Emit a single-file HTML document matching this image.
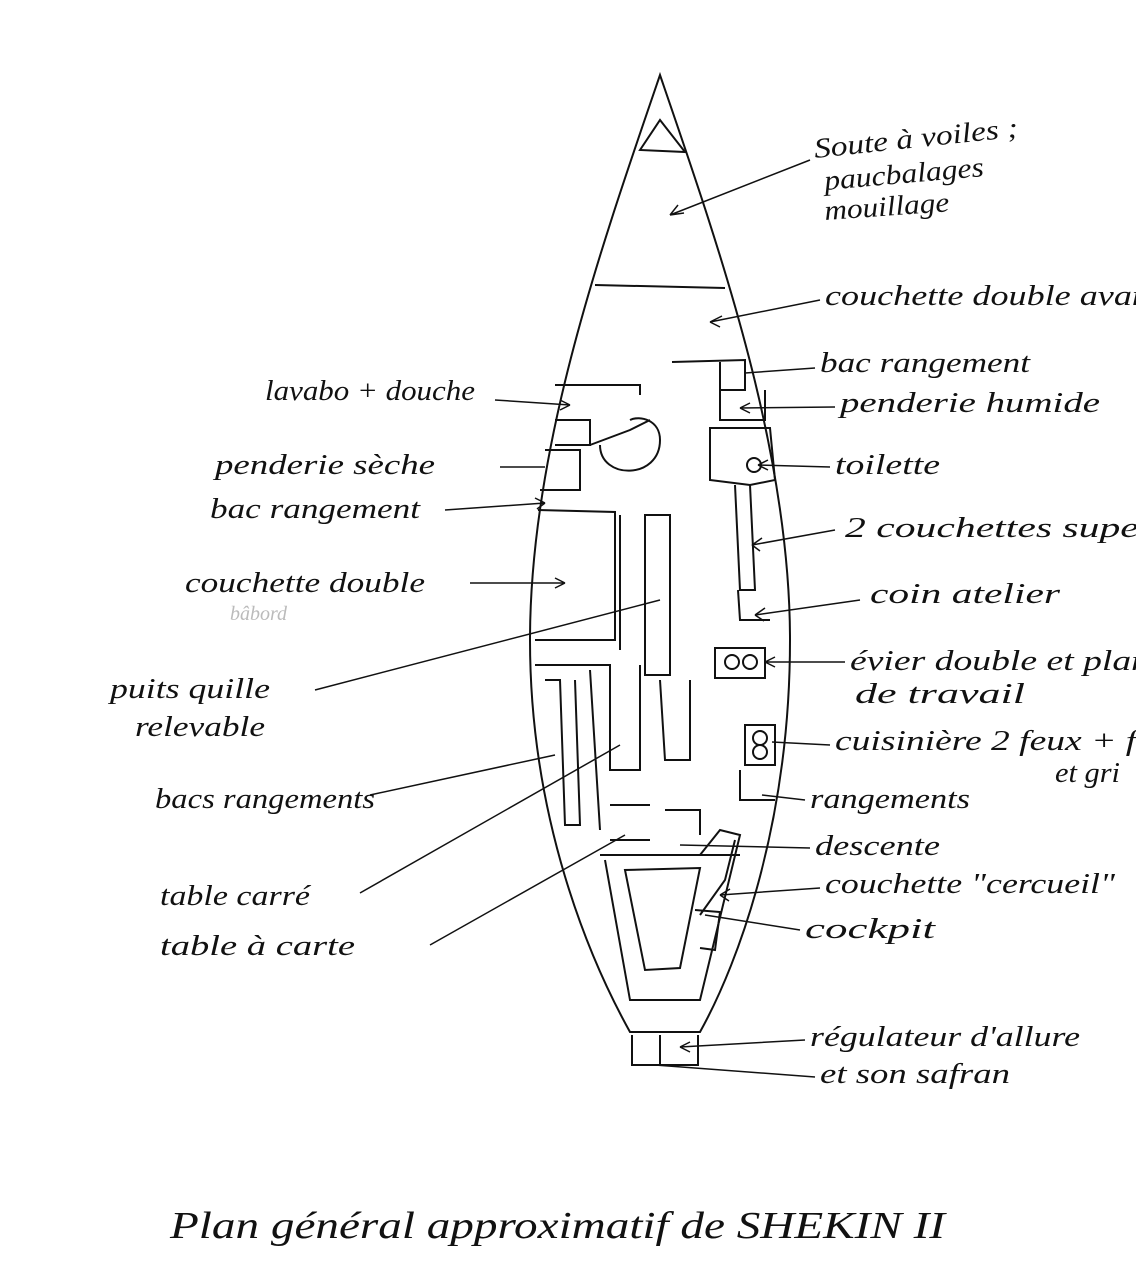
<!DOCTYPE html>
<html><head><meta charset="utf-8"><style>
html,body{margin:0;padding:0;background:#fff;}
svg{display:block}
text{font-family:"Liberation Serif",serif;font-style:italic;fill:#111;font-size:28px}
</style></head><body>
<svg width="1136" height="1264" viewBox="0 0 1136 1264" xmlns="http://www.w3.org/2000/svg">
<g fill="none" stroke="#111" stroke-width="2">
<path d="M660,75 C600,250 530,450 530,640 C530,820 590,960 630,1032 L700,1032 C740,960 790,820 790,640 C790,450 720,250 660,75 Z"/>
<path d="M640,150 L660,120 L685,152 Z"/>
<line x1="595" y1="285" x2="725" y2="288"/>
<path d="M632,1035 L632,1065 L698,1065 L698,1035"/>
<line x1="660" y1="1035" x2="660" y2="1065"/>
<path d="M672,362 L745,360 L745,390 L720,390 L720,362"/>
<path d="M720,390 L720,420 L765,420 L765,390"/>
<path d="M710,428 L770,428 L775,480 L750,485 L710,480 Z"/>
<circle cx="754" cy="465" r="7"/>
<path d="M555,385 L640,385 L640,395"/>
<path d="M555,420 L590,420 L590,445 L555,445"/>
<path d="M600,445 C600,480 660,480 660,440 C660,420 640,415 630,420"/>
<path d="M590,445 L630,430 L650,420"/>
<path d="M545,450 L580,450 L580,490 L540,490"/>
<path d="M538,510 L615,512 L615,640 L535,640"/>
<path d="M620,515 L620,650"/>
<rect x="645" y="515" width="25" height="160"/>
<path d="M735,485 L740,590 L755,590 L750,485"/>
<path d="M738,590 L740,620 L770,620"/>
<path d="M715,648 L765,648 L765,678 L715,678 Z"/>
<circle cx="732" cy="662" r="7"/><circle cx="750" cy="662" r="7"/>
<path d="M745,725 L775,725 L775,765 L745,765 Z"/>
<circle cx="760" cy="738" r="7"/><circle cx="760" cy="752" r="7"/>
<path d="M740,770 L740,800 L775,800"/>
<path d="M535,665 L610,665 L610,770 L640,770 L640,665"/>
<path d="M545,680 L560,680 L565,825 L580,825 L575,680"/>
<path d="M590,670 L600,830"/>
<path d="M660,680 L665,760 L690,760 L690,680"/>
<path d="M610,805 L650,805 M665,810 L700,810 L700,835"/>
<path d="M600,855 L740,855 M610,840 L650,840"/>
<path d="M605,860 L630,1000 L700,1000 L740,835 L720,830 L700,855"/>
<path d="M625,870 L645,970 L680,968 L700,868 Z"/>
<path d="M695,910 L720,912 L715,950 L700,948"/>
<path d="M700,915 L725,880 L735,840"/>
</g>
<g fill="none" stroke="#111" stroke-width="1.5">
<path d="M810,160 L670,215 M670,215 l14,-2 M670,215 l8,-10"/>
<path d="M820,300 L710,322 M710,322 l12,-6 M710,322 l10,5"/>
<path d="M815,368 L745,373"/>
<path d="M835,407 L740,408 M740,408 l10,-5 M740,408 l10,5"/>
<path d="M830,467 L758,465 M758,465 l10,-5 M758,465 l10,5"/>
<path d="M835,530 L752,545 M752,545 l10,-7 M752,545 l8,6"/>
<path d="M860,600 L755,615 M755,615 l10,-7 M755,615 l9,6"/>
<path d="M845,662 L765,662 M765,662 l10,-5 M765,662 l10,5"/>
<path d="M830,745 L772,742"/>
<path d="M805,800 L762,795"/>
<path d="M810,848 L680,845"/>
<path d="M820,888 L720,895 M720,895 l10,-6 M720,895 l9,6"/>
<path d="M800,930 L705,915"/>
<path d="M805,1040 L680,1047 M680,1047 l10,-5 M680,1047 l10,5"/>
<path d="M815,1077 L655,1065"/>
<path d="M495,400 L570,405 M570,405 l-10,-5 M570,405 l-10,5"/>
<path d="M500,467 L545,467"/>
<path d="M445,510 L545,503 M545,503 l-10,-5 M545,503 l-8,6"/>
<path d="M470,583 L565,583 M565,583 l-10,-5 M565,583 l-10,5"/>
<path d="M315,690 L660,600"/>
<path d="M370,795 L555,755"/>
<path d="M360,893 L620,745"/>
<path d="M430,945 L625,835"/>
</g>
<g lengthAdjust="spacingAndGlyphs">
<text x="815" y="158" transform="rotate(-6 815 158)" textLength="205" lengthAdjust="spacingAndGlyphs">Soute à voiles ;</text>
<text x="825" y="190" transform="rotate(-5 825 190)" textLength="160" lengthAdjust="spacingAndGlyphs">paucbalages</text>
<text x="825" y="220" transform="rotate(-4 825 220)" textLength="125" lengthAdjust="spacingAndGlyphs">mouillage</text>
<text x="825" y="305" textLength="335" lengthAdjust="spacingAndGlyphs">couchette double avant</text>
<text x="820" y="372" textLength="210" lengthAdjust="spacingAndGlyphs">bac rangement</text>
<text x="840" y="412" textLength="260" lengthAdjust="spacingAndGlyphs">penderie humide</text>
<text x="835" y="474" textLength="105" lengthAdjust="spacingAndGlyphs">toilette</text>
<text x="845" y="537" textLength="310" lengthAdjust="spacingAndGlyphs">2 couchettes super</text>
<text x="870" y="603" textLength="190" lengthAdjust="spacingAndGlyphs">coin atelier</text>
<text x="850" y="670" textLength="300" lengthAdjust="spacingAndGlyphs">évier double et plan</text>
<text x="855" y="703" textLength="170" lengthAdjust="spacingAndGlyphs">de travail</text>
<text x="835" y="750" textLength="320" lengthAdjust="spacingAndGlyphs">cuisinière 2 feux + fo</text>
<text x="1055" y="782" textLength="65" lengthAdjust="spacingAndGlyphs">et gri</text>
<text x="810" y="808" textLength="160" lengthAdjust="spacingAndGlyphs">rangements</text>
<text x="815" y="855" textLength="125" lengthAdjust="spacingAndGlyphs">descente</text>
<text x="825" y="893" textLength="290" lengthAdjust="spacingAndGlyphs">couchette "cercueil"</text>
<text x="805" y="938" textLength="130" lengthAdjust="spacingAndGlyphs">cockpit</text>
<text x="810" y="1046" textLength="270" lengthAdjust="spacingAndGlyphs">régulateur d'allure</text>
<text x="820" y="1083" textLength="190" lengthAdjust="spacingAndGlyphs">et son safran</text>
<text x="265" y="400" textLength="210" lengthAdjust="spacingAndGlyphs">lavabo + douche</text>
<text x="215" y="474" textLength="220" lengthAdjust="spacingAndGlyphs">penderie sèche</text>
<text x="210" y="518" textLength="210" lengthAdjust="spacingAndGlyphs">bac rangement</text>
<text x="185" y="592" textLength="240" lengthAdjust="spacingAndGlyphs">couchette double</text>
<text x="230" y="620" style="font-size:20px;fill:#bbb">bâbord</text>
<text x="110" y="698" textLength="160" lengthAdjust="spacingAndGlyphs">puits quille</text>
<text x="135" y="736" textLength="130" lengthAdjust="spacingAndGlyphs">relevable</text>
<text x="155" y="808" textLength="220" lengthAdjust="spacingAndGlyphs">bacs rangements</text>
<text x="160" y="905" textLength="150" lengthAdjust="spacingAndGlyphs">table carré</text>
<text x="160" y="955" textLength="195" lengthAdjust="spacingAndGlyphs">table à carte</text>
<text x="170" y="1238" style="font-size:38px" textLength="775" lengthAdjust="spacingAndGlyphs">Plan général approximatif de SHEKIN II</text>
</g>
</svg>
</body></html>
